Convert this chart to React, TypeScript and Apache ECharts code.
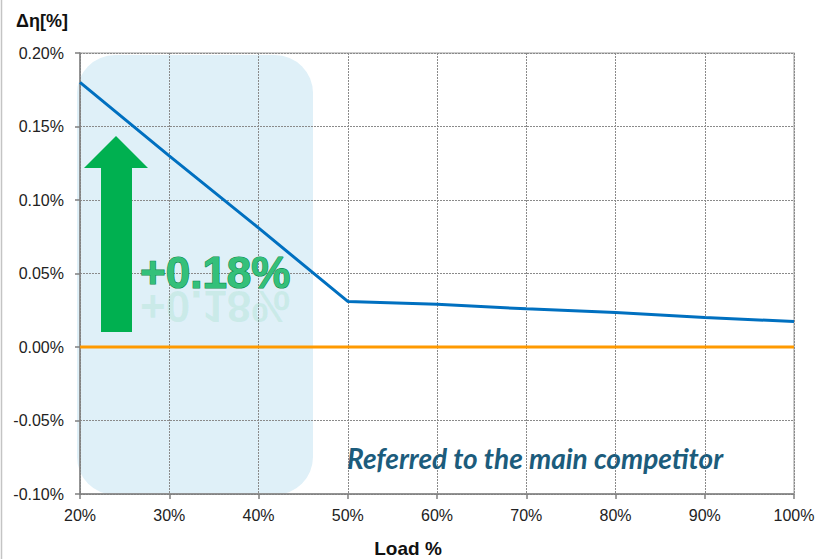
import React, { useEffect, useRef } from "react";
import * as echarts from "echarts";

const loads = [20, 30, 40, 50, 60, 70, 80, 90, 100];
const deltaEta = [0.18, 0.13, 0.081, 0.031, 0.029, 0.026, 0.0235, 0.02, 0.0174];
const competitor = [0, 0, 0, 0, 0, 0, 0, 0, 0];
const yName = "Δη[%]";
const xName = "Load %";
const gainLabel = "+0.18%";
const noteLabel = "Referred to the main competitor";

export default function App() {
  const ref = useRef<HTMLDivElement>(null);
  useEffect(() => {
    if (!ref.current) return;
    const chart = echarts.init(ref.current, undefined, { renderer: "svg" });
    const font = "'Liberation Sans', Arial, sans-serif";
    chart.setOption({
      animation: false,
      backgroundColor: "#ffffff",
      grid: {
        left: 80,
        top: 53,
        right: 24,
        bottom: 65,
        show: true,
        borderColor: "#bdbdbd",
        borderWidth: 1.5,
      },
      xAxis: {
        type: "value",
        min: 20,
        max: 100,
        interval: 10,
        axisLine: { show: true, onZero: false, lineStyle: { color: "#7f7f7f", width: 1.5 } },
        axisTick: { show: true, length: 5, lineStyle: { color: "#7f7f7f", width: 1.5 } },
        axisLabel: {
          margin: 13,
          color: "#222",
          fontFamily: font,
          fontSize: 16,
          formatter: (v: number) => `${v}%`,
        },
        splitLine: { show: true, lineStyle: { color: "#8a8a8a", width: 1, type: [2, 1] } },
      },
      yAxis: {
        type: "value",
        min: -0.1,
        max: 0.2,
        interval: 0.05,
        axisLine: { show: true, onZero: false, lineStyle: { color: "#7f7f7f", width: 1.5 } },
        axisTick: { show: true, length: 5, lineStyle: { color: "#7f7f7f", width: 1.5 } },
        axisLabel: {
          margin: 16,
          color: "#222",
          fontFamily: font,
          fontSize: 16,
          formatter: (v: number) => `${v.toFixed(2)}%`,
        },
        splitLine: { show: true, lineStyle: { color: "#8a8a8a", width: 1, type: [2, 1] } },
      },
      series: [
        {
          type: "line",
          data: loads.map((x, i) => [x, competitor[i]]),
          symbol: "none",
          lineStyle: { color: "#ff9a00", width: 3 },
          z: 3,
        },
        {
          type: "line",
          data: loads.map((x, i) => [x, deltaEta[i]]),
          symbol: "none",
          lineStyle: { color: "#0070c0", width: 3 },
          z: 4,
        },
      ],
      graphic: [
        {
          type: "rect",
          z: -10,
          silent: true,
          shape: { x: 77, y: 55, width: 236, height: 440, r: 38 },
          style: { fill: "#dff0f8" },
        },
        {
          type: "line",
          z: 50,
          shape: { x1: 1.5, y1: 0, x2: 1.5, y2: 559 },
          style: { stroke: "#c4c4c4", lineWidth: 1.5 },
        },
        {
          type: "polygon",
          z: 60,
          shape: {
            points: [
              [116, 136],
              [148, 168],
              [132, 168],
              [132, 332],
              [101, 332],
              [101, 168],
              [84, 168],
            ],
          },
          style: { fill: "#00b050" },
        },
        {
          type: "text",
          z: 59,
          x: 140,
          y: 284,
          scaleY: -1,
          style: {
            text: gainLabel,
            font: `bold 44px ${font}`,
            verticalAlign: "bottom",
            fill: "#3cc47f",
            opacity: 0.12,
          },
        },
        {
          type: "text",
          z: 60,
          x: 140,
          y: 272,
          style: {
            text: gainLabel,
            font: `bold 44px ${font}`,
            verticalAlign: "middle",
            fill: "#34c07a",
            stroke: "#0e8a4c",
            lineWidth: 1.2,
          },
        },
        {
          type: "text",
          z: 60,
          x: 347,
          y: 458,
          style: {
            text: noteLabel,
            font: `italic bold 28px Lato, 'Open Sans', sans-serif`,
            verticalAlign: "middle",
            fill: "#1c5c7c",
          },
        },
        {
          type: "text",
          z: 60,
          x: 16,
          y: 21,
          style: {
            text: yName,
            font: `bold 18px ${font}`,
            verticalAlign: "middle",
            fill: "#111",
          },
        },
        {
          type: "text",
          z: 60,
          x: 408,
          y: 548,
          style: {
            text: xName,
            font: `bold 19px ${font}`,
            align: "center",
            verticalAlign: "middle",
            fill: "#111",
          },
        },
      ],
    });
    return () => chart.dispose();
  }, []);
  return (
    <div
      ref={ref}
      style={{ position: "fixed", left: 0, top: 0, width: 818, height: 559 }}
    />
  );
}
